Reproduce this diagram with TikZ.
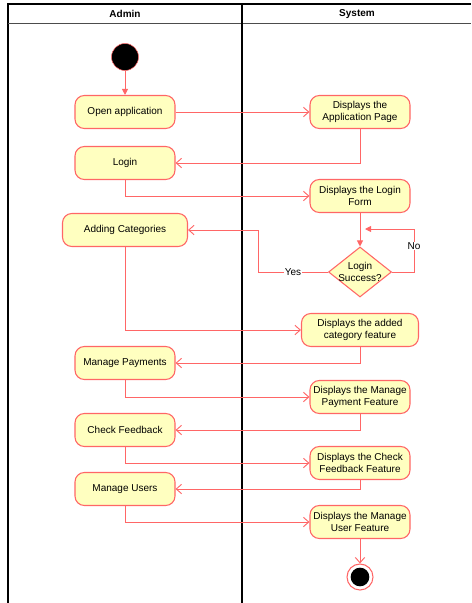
\documentclass[tikz,border=0pt]{standalone}
\usepackage{fontspec}
\setmainfont{Liberation Sans}
\usetikzlibrary{shapes,arrows,positioning,calc,arrows.meta}
\definecolor{lred}{HTML}{FF6666}
\definecolor{lyel}{HTML}{FFFFC0}

\begin{document}
\begin{tikzpicture}[x=0.75pt,y=-0.75pt,
    font=\fontsize{7.5}{9}\selectfont,
    act/.style={draw=lred, fill=lyel, line width=0.8pt, rounded corners=7pt,
        minimum width=75pt, minimum height=24.75pt, align=center, inner sep=1pt},
    flow/.style={draw=lred, line width=0.7pt, -{Straight Barb[length=4pt,width=7pt]}},
    fflow/.style={draw=lred, line width=0.7pt, -{Triangle[length=4.5pt,width=4.5pt]}}]
    \useasboundingbox (0,0) rectangle (471,603);

    % Swimlanes
    \draw[line width=0.8pt] (8,603) -- (8,4) -- (471,4);
    \draw[line width=0.8pt, black!70] (8,23.5) -- (471,23.5);
    \draw[line width=0.8pt] (242,4) -- (242,603);
    \node[font=\fontsize{7.5}{9}\selectfont\bfseries] (admin) at (125,14) {Admin};
    \node[font=\fontsize{7.5}{9}\selectfont\bfseries] (system) at (357,14) {System};

    % Admin lane
    \node[circle, fill=black, draw=lred, minimum size=20.25pt, inner sep=0] (start) at (125,57) {};
    \node[act] (open) at (125,112) {Open application};
    \node[act] (login) at (125,163) {Login};
    \node[act, minimum width=93.75pt] (addcat) at (125,230) {Adding Categories};
    \node[act] (pay) at (125,363) {Manage Payments};
    \node[act] (fb) at (125,430) {Check Feedback};
    \node[act] (users) at (125,489) {Manage Users};

    % System lane
    \node[act] (dapp) at (360,112) {Displays the\\Application Page};
    \node[act] (dlogin) at (360,196) {Displays the Login\\Form};
    \node[diamond, aspect=1.26, draw=lred, fill=lyel, line width=0.8pt, minimum width=47.25pt,
        minimum height=37.5pt, inner sep=-2pt, align=center] (dec) at (360,272) {Login\\Success?};
    \node[act, minimum width=87.75pt] (dcat) at (360,330) {Displays the added\\category feature};
    \node[act] (dpay) at (360,397) {Displays the Manage\\Payment Feature};
    \node[act] (dfb) at (360,463) {Displays the Check\\Feedback Feature};
    \node[act] (dusers) at (360,522) {Displays the Manage\\User Feature};
    \node[circle, draw=lred, fill=white, line width=0.8pt, minimum size=19.5pt, inner sep=0] (stop) at (360,577) {};
    \node[circle, fill=black, minimum size=14pt, inner sep=0] (stopdot) at (stop) {};

    % Flows
    \draw[fflow] (start) -- (open);
    \draw[flow] (open) -- (dapp);
    \foreach \a/\b in {dapp/login, dcat/pay, dpay/fb, dfb/users}
        \draw[flow] (\a.south) |- (\b.east);
    \foreach \a/\b in {login/dlogin, addcat/dcat, pay/dpay, fb/dfb, users/dusers}
        \draw[flow] (\a.south) |- (\b.west);
    \draw[fflow] (dlogin) -- (dec);
    \draw[flow] (dusers) -- (stop);

    % Decision
    \coordinate (yesbend) at (258,272);
    \coordinate (nobend) at (414,229);
    \coordinate (noend) at (365,229);
    \draw[flow] (dec.west) -- node[midway, fill=white, inner sep=0.5pt] {Yes} (yesbend) |- (addcat.east);
    \draw[fflow] (dec.east) -| node[pos=0.8, fill=white, inner sep=0.5pt] {No} (nobend) -- (noend);
\end{tikzpicture}
\end{document}
